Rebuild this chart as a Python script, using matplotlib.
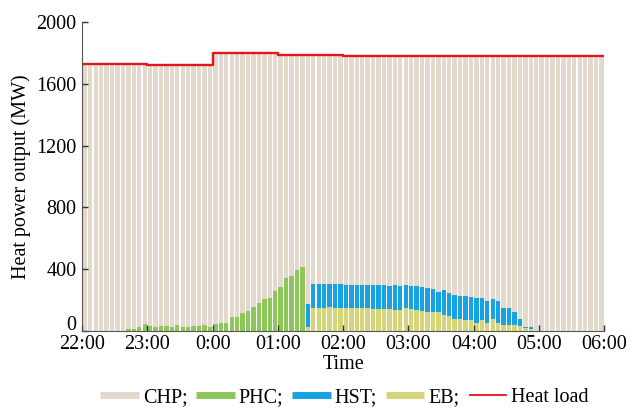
import numpy as np
import matplotlib
matplotlib.use("Agg")
from matplotlib import pyplot as plt
from matplotlib.lines import Line2D
import matplotlib.transforms as mtransforms

plt.rcParams['font.family'] = ['Liberation Serif', 'DejaVu Serif']

# 5-minute intervals from 22:00 to 06:00 (96 bars)
tick_labels = ["22:00", "23:00", "0:00", "01:00", "02:00", "03:00", "04:00", "05:00", "06:00"]

phc = [0] * 8 + [15, 12, 22, 42, 30, 25, 32, 32, 26, 38, 24, 24, 32, 30, 35, 28,
                 42, 48, 50, 90, 88, 118, 128, 152, 180, 208, 215, 258, 287, 340,
                 358, 395, 412] + [0] * 55

eb = [0] * 41 + [28] + [148, 150, 150, 152, 150, 150, 148, 148, 146, 146, 145, 143,
                        142, 140, 140, 138, 136] + \
     [145, 140, 138, 130, 125, 125, 122, 102, 97, 80, 80, 72, 70, 52, 70, 48, 80,
      52, 38, 38, 38, 30, 16, 14] + [0] * 13

hst = [0] * 41 + [145] + [154, 153, 153, 150, 152, 152, 152, 152, 154, 154, 153, 155,
                          154, 156, 152, 156, 154] + \
      [150, 152, 152, 152, 151, 145, 133, 163, 151, 152, 148, 156, 152, 158, 146, 148,
       124, 144, 108, 108, 87, 45, 12, 8] + [0] * 13

heat_load = [1730] * 12 + [1722] * 12 + [1798] * 12 + [1790] * 12 + [1780] * 48

phc = np.array(phc)
eb = np.array(eb)
hst = np.array(hst)
heat_load = np.array(heat_load)
chp = heat_load - phc - eb - hst

c_chp = '#E3D9CC'
c_phc = '#8DC75B'
c_hst = '#16A2E3'
c_eb = '#D5D67B'
c_load = '#E3151D'

fs = 14.5

fig = plt.figure(figsize=(6.32, 4.09), dpi=100)
ax = fig.add_axes([0.13, 0.191, 0.826, 0.755])

x = np.arange(len(heat_load)) + 0.5
w = 0.8
ax.bar(x, phc, w, color=c_phc, linewidth=0)
ax.bar(x, eb, w, bottom=phc, color=c_eb, linewidth=0)
ax.bar(x, hst, w, bottom=phc + eb, color=c_hst, linewidth=0)
ax.bar(x, chp, w, bottom=phc + eb + hst, color=c_chp, linewidth=0)

edges = np.arange(len(heat_load) + 1)
ax.plot(edges, np.append(heat_load, heat_load[-1]), drawstyle='steps-post',
        color=c_load, linewidth=1.7)

ax.set_xlim(0, 96)
ax.set_ylim(0, 2000)
ax.set_xticks(np.arange(0, 97, 12))
ax.set_xticklabels(tick_labels)
ax.set_yticks(np.arange(0, 2001, 400))
ax.tick_params(direction='in', labelsize=fs, length=4, width=1, color='#333333', pad=4)
ax.tick_params(axis='x', pad=3)
ax.spines['top'].set_visible(False)
ax.spines['right'].set_visible(False)
ax.spines['left'].set_color('#555555')
ax.spines['bottom'].set_color('#555555')
ax.set_xlabel("Time", fontsize=fs, labelpad=1)
ax.set_ylabel("Heat power output (MW)", fontsize=fs, labelpad=4)

# lift the "0" label a bit off the x tick labels
zero_lbl = ax.get_yticklabels()[0]
zero_lbl.set_transform(zero_lbl.get_transform() +
                       mtransforms.ScaledTranslation(0, 8 / 100, fig.dpi_scale_trans))

handles = [Line2D([], [], color=c_chp, lw=5, solid_capstyle='butt'),
           Line2D([], [], color=c_phc, lw=5, solid_capstyle='butt'),
           Line2D([], [], color=c_hst, lw=5, solid_capstyle='butt'),
           Line2D([], [], color=c_eb, lw=5, solid_capstyle='butt'),
           Line2D([], [], color=c_load, lw=1.3, solid_capstyle='butt')]
labels = ["CHP;", "PHC;", "HST;", "EB;", "Heat load"]
fig.legend(handles, labels, loc='center', bbox_to_anchor=(0.545, 0.028), ncol=5,
           frameon=False, fontsize=fs, handlelength=1.9, handletextpad=0.2,
           columnspacing=0.45, borderpad=0, borderaxespad=0)

fig.savefig("out.png", dpi=100)
